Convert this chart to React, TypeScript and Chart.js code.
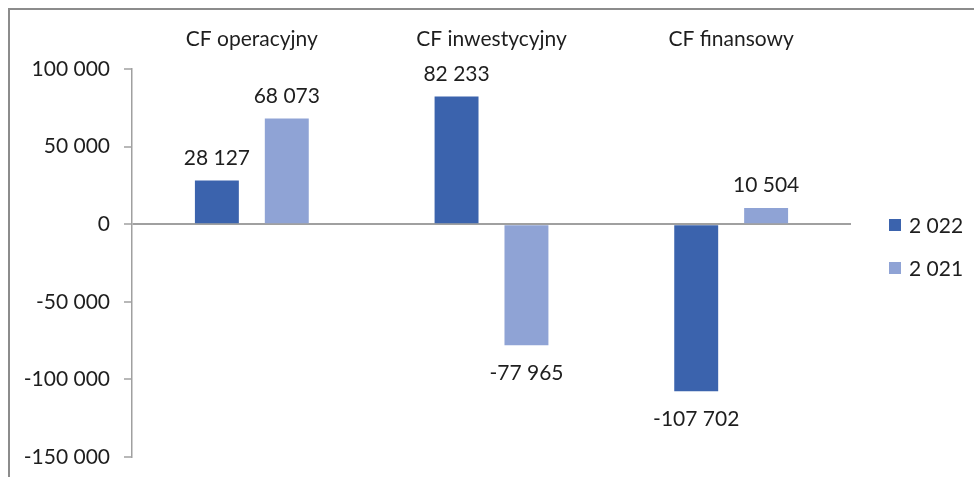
import React, { useEffect, useRef } from "react";
import { Chart, registerables } from "chart.js";

Chart.register(...registerables);

const categories = ["CF operacyjny", "CF inwestycyjny", "CF finansowy"];
const seriesNames = ["2 022", "2 021"];
const values2022 = [28127, 82233, -107702];
const values2021 = [68073, -77965, 10504];
const yTicks = [100000, 50000, 0, -50000, -100000, -150000];

const COLORS = ["#3B63AD", "#8FA3D5"];
const FONT = "Lato";
const FS = 21;
const TEXT = "#1e1e1e";
const AXIS = "#a0a0a0";

function fmt(v: number): string {
  const s = Math.abs(Math.round(v)).toString().replace(/\B(?=(\d{3})+(?!\d))/g, " ");
  return (v < 0 ? "-" : "") + s;
}

const dataLabels = {
  id: "dataLabels",
  afterDatasetsDraw(chart: any) {
    const ctx = chart.ctx;
    ctx.save();
    ctx.font = `${FS}px ${FONT}`;
    ctx.fillStyle = TEXT;
    ctx.textAlign = "center";
    ctx.textBaseline = "alphabetic";
    chart.data.datasets.forEach((ds: any, i: number) => {
      const meta = chart.getDatasetMeta(i);
      meta.data.forEach((bar: any, j: number) => {
        const v = ds.data[j] as number;
        const y = v >= 0 ? bar.y - 16 : bar.y + 35;
        ctx.fillText(fmt(v), bar.x, y);
      });
    });
    ctx.restore();
  },
};

const sideLegend = {
  id: "sideLegend",
  afterDraw(chart: any) {
    const ctx = chart.ctx;
    const area = chart.chartArea;
    const x = area.right + 38;
    const mid = (area.top + area.bottom) / 2;
    ctx.save();
    ctx.font = `${FS}px ${FONT}`;
    ctx.textAlign = "left";
    ctx.textBaseline = "middle";
    chart.data.datasets.forEach((ds: any, i: number) => {
      const cy = mid - 38 + i * 43;
      ctx.fillStyle = ds.backgroundColor;
      ctx.fillRect(x, cy - 6, 12, 12);
      ctx.fillStyle = TEXT;
      ctx.fillText(ds.label, x + 20, cy + 1);
    });
    ctx.restore();
  },
};

export default function App() {
  const ref = useRef<HTMLCanvasElement>(null);

  useEffect(() => {
    if (!ref.current) return;
    const chart = new Chart(ref.current, {
      type: "bar",
      data: {
        labels: categories,
        datasets: [
          {
            label: seriesNames[0],
            data: values2022,
            backgroundColor: COLORS[0],
            borderWidth: 0,
            categoryPercentage: 140 / 240,
            barPercentage: 44 / 70,
          },
          {
            label: seriesNames[1],
            data: values2021,
            backgroundColor: COLORS[1],
            borderWidth: 0,
            categoryPercentage: 140 / 240,
            barPercentage: 44 / 70,
          },
        ],
      },
      options: {
        responsive: false,
        animation: false,
        devicePixelRatio: 1,
        layout: { padding: { left: 0, top: 0, right: 123, bottom: 20 } },
        plugins: {
          legend: { display: false },
          tooltip: { enabled: false },
        },
        scales: {
          x: {
            position: "top",
            grid: { display: false, drawTicks: false },
            border: { display: false },
            ticks: {
              font: { family: FONT, size: FS },
              color: TEXT,
              padding: 17,
            },
            afterFit: (scale: any) => {
              scale.height = 69;
              scale.paddingLeft = 0;
              scale.paddingRight = 0;
            },
          },
          y: {
            min: -150000,
            max: 100000,
            afterBuildTicks: (scale: any) => {
              scale.ticks = yTicks.map((v) => ({ value: v }));
            },
            ticks: {
              font: { family: FONT, size: FS },
              color: TEXT,
              padding: 14,
              callback: (v: any) => fmt(Number(v)),
            },
            grid: {
              color: (c: any) => (c.tick && c.tick.value === 0 ? AXIS : "rgba(0,0,0,0)"),
              lineWidth: 2,
              tickColor: AXIS,
              tickLength: 8,
              tickWidth: 1.5,
            },
            border: { display: true, color: AXIS, width: 1.5 },
            afterFit: (scale: any) => {
              scale.width = 132;
              scale.paddingTop = 0;
              scale.paddingBottom = 0;
            },
          },
        },
      },
      plugins: [dataLabels, sideLegend],
    });
    return () => chart.destroy();
  }, []);

  return (
    <div style={{ position: "absolute", left: 0, top: 0, width: 974, height: 477, background: "#fff", overflow: "hidden" }}>
      <canvas ref={ref} width={974} height={477} style={{ position: "absolute", left: 0, top: 0, width: 974, height: 477 }} />
      <div
        style={{
          position: "absolute",
          left: 8,
          top: 8,
          width: 2000,
          height: 2000,
          borderLeft: "2px solid #8c8c8c",
          borderTop: "2px solid #8c8c8c",
          pointerEvents: "none",
        }}
      />
    </div>
  );
}
